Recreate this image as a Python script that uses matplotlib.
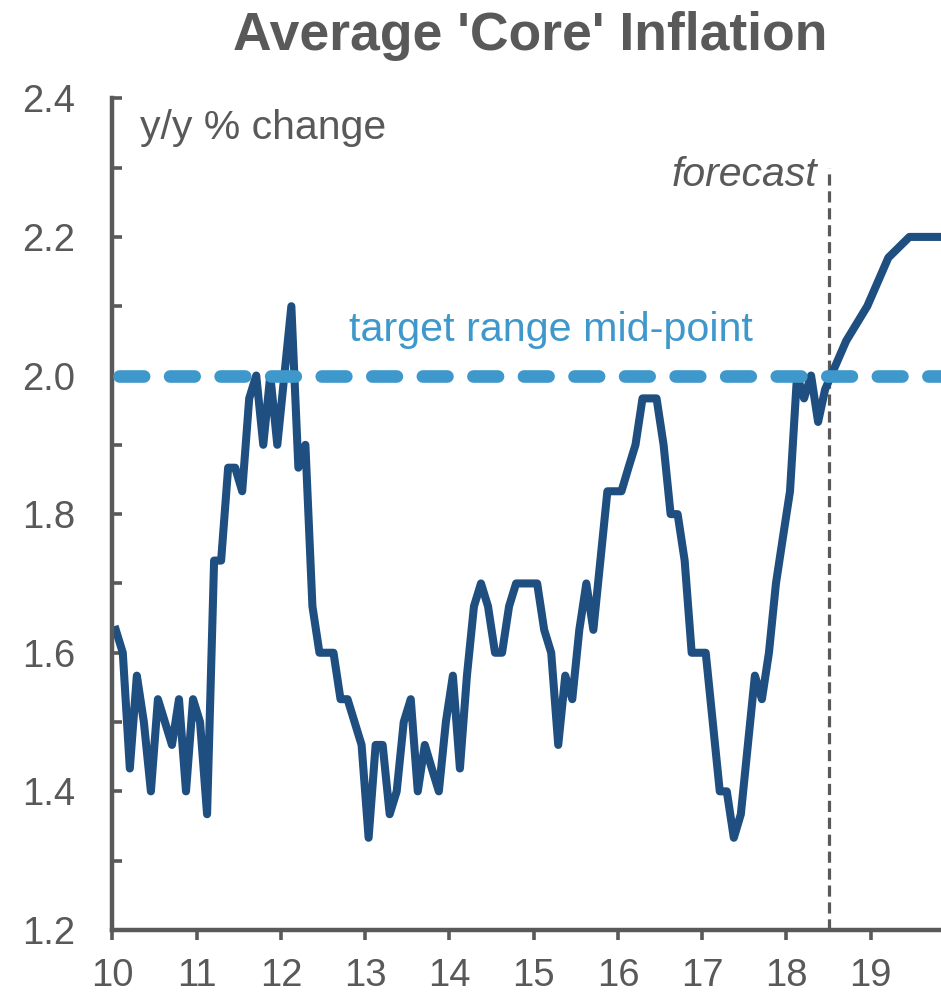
import numpy as np
import matplotlib
matplotlib.use("Agg")
import matplotlib.pyplot as plt

plt.rcParams['font.family'] = ['Liberation Sans', 'DejaVu Sans']

# monthly history, Jan 2010 onwards (index = months since Jan 2010)
hist_vals = [
    1.633, 1.6, 1.433, 1.567, 1.5, 1.4, 1.533, 1.5, 1.467, 1.533, 1.4, 1.533,   # 2010
    1.5, 1.367, 1.733, 1.733, 1.867, 1.867, 1.833, 1.967, 2.0, 1.9, 2.0, 1.9,    # 2011
    2.0, 2.1, 1.867, 1.9, 1.667, 1.6, 1.6, 1.6, 1.533, 1.533, 1.5, 1.467,        # 2012
    1.333, 1.467, 1.467, 1.367, 1.4, 1.5, 1.533, 1.4, 1.467, 1.433, 1.4, 1.5,    # 2013
    1.567, 1.433, 1.567, 1.667, 1.7, 1.667, 1.6, 1.6, 1.667, 1.7, 1.7, 1.7,      # 2014
    1.7, 1.633, 1.6, 1.467, 1.567, 1.533, 1.633, 1.7, 1.633, 1.733, 1.833, 1.833,  # 2015
    1.833, 1.867, 1.9, 1.967, 1.967, 1.967, 1.9, 1.8, 1.8, 1.733, 1.6, 1.6,      # 2016
    1.6, 1.5, 1.4, 1.4, 1.333, 1.367, 1.467, 1.567, 1.533, 1.6, 1.7, 1.767,      # 2017
    1.833, 2.0, 1.967, 2.0, 1.933,                                               # 2018
]
# forecast path (months since Jan 2010, value)
fc_months = [101, 104, 107, 110, 113, 116, 119]
fc_vals = [1.98, 2.05, 2.1, 2.17, 2.2, 2.2, 2.2]

target = 2.0
forecast_start = 18.5

months = np.concatenate([np.arange(len(hist_vals)), fc_months])
vals = np.concatenate([hist_vals, fc_vals])
x = 10 + (months + 0.5) / 12

grey = '#595959'
dark_blue = '#1F4E80'
light_blue = '#3F98CB'

fig = plt.figure(figsize=(9.41, 9.99), dpi=100)
ax = fig.add_axes([0.1193, 0.0691, 0.8807, 0.8325])

# dashed target line, starts so the first rounded cap sits on the spine
ax.plot([10.075, 20], [target, target], color=light_blue, lw=9.1,
        dashes=(1.95, 2.05), dash_capstyle='round', zorder=3)
ax.plot(x, vals, color=dark_blue, lw=5.8, solid_joinstyle='round', zorder=2)
ax.plot([forecast_start, forecast_start], [1.2, 2.3], color=grey, lw=2.3,
        dashes=(3.5, 1.8), zorder=1)

ax.set_xlim(10, 10 + 118 / 12)
ax.set_ylim(1.2, 2.4)

ax.set_xticks(np.arange(10, 20))
ax.set_xticklabels([str(i) for i in range(10, 20)])
ax.set_yticks(np.arange(1.2, 2.41, 0.2))
ax.set_yticklabels(['%.1f' % v for v in np.arange(1.2, 2.41, 0.2)])
ax.set_yticks(np.arange(1.3, 2.4, 0.2), minor=True)

for s in ['top', 'right']:
    ax.spines[s].set_visible(False)
for s in ['left', 'bottom']:
    ax.spines[s].set_color(grey)
    ax.spines[s].set_linewidth(3.2)

ax.tick_params(axis='y', which='both', direction='in', length=7.5, width=2.6,
               color=grey, labelcolor=grey, labelsize=27.5, pad=26.5)
ax.tick_params(axis='x', direction='out', length=7.5, width=2.6,
               color=grey, labelcolor=grey, labelsize=27.5, pad=13)

ax.text(10.33, 2.357, 'y/y % change', color=grey, fontsize=29.5, va='center', ha='left')
ax.text(18.36, 2.29, 'forecast', color=grey, fontsize=29.5, style='italic',
        va='center', ha='right')
ax.text(15.2, 2.066, 'target range mid-point', color=light_blue, fontsize=29.7,
        va='center', ha='center')

fig.text(530 / 941, 1 - 50 / 999, "Average 'Core' Inflation", color=grey,
         fontsize=38.5, fontweight='bold', ha='center', va='baseline')

fig.savefig('out.png', dpi=100)
